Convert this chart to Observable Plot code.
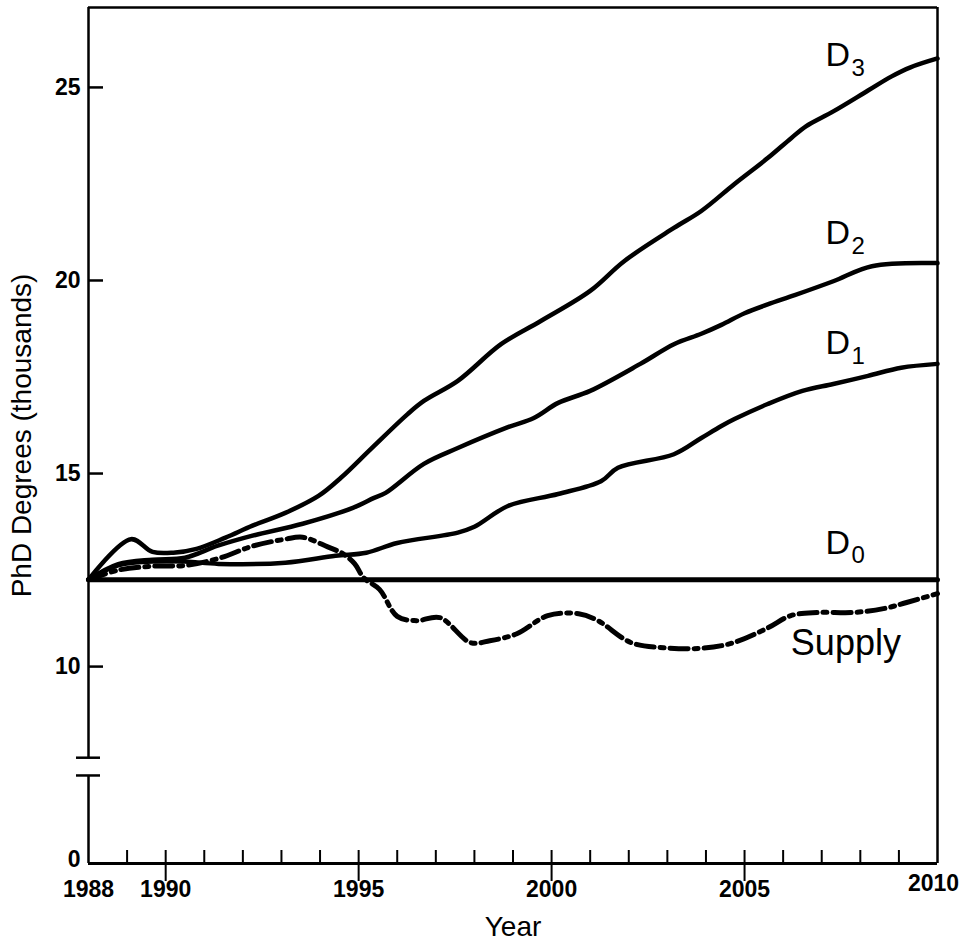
<!DOCTYPE html>
<html><head><meta charset="utf-8">
<script src="https://cdn.jsdelivr.net/npm/d3@7"></script>
<script src="https://cdn.jsdelivr.net/npm/@observablehq/plot@0.6"></script>
<style>body{margin:0;background:#fff} svg{display:block}</style>
</head><body><div id="chart"></div>
<script>
// ---- data ----
const minorYears = [1989,1990,1991,1992,1993,1994,1995,1996,1997,1998,1999,2000,2001,2002,2003,2004,2005,2006,2007,2008,2009];
const majorYears = [1990,1995,2000,2005];
const xTickLabels = [1988,1990,1995,2000,2005,2010];
const yTickLabels = [0,10,15,20,25];
const yZeroPos = 5;            // broken axis: "0" is drawn at this scale position
const yBreak = [7.18, 7.64];   // broken-axis marks
const yDomain = [4.9, 27.07];
const xDomain = [1988, 2010];

const D0 = [[1988,12.25],[2010,12.25]];
const D1 = [[1988,12.25],[1988.77,12.62],[1989.66,12.72],[1990.5,12.72],[1991.37,12.66],[1993.1,12.69],[1994.4,12.87],[1995.2,12.95],[1996.0,13.2],[1997.57,13.47],[1998.0,13.62],[1998.87,14.16],[2000.17,14.47],[2001.28,14.8],[2001.72,15.15],[2003.17,15.5],[2003.88,15.92],[2004.4,16.23],[2004.74,16.41],[2005.6,16.8],[2006.5,17.14],[2007.3,17.32],[2008.2,17.53],[2009.06,17.74],[2010,17.84]];
const D2 = [[1988,12.25],[1988.77,12.65],[1989.66,12.77],[1990.5,12.82],[1991.35,13.13],[1992.25,13.39],[1993.55,13.7],[1994.85,14.11],[1995.4,14.37],[1995.7,14.5],[1996.69,15.25],[1997.57,15.66],[1998.87,16.2],[1999.54,16.44],[2000.17,16.83],[2001.0,17.14],[2002.3,17.84],[2003.17,18.35],[2003.88,18.62],[2004.4,18.85],[2005.0,19.15],[2005.6,19.38],[2006.3,19.62],[2007.3,19.98],[2008.3,20.37],[2010,20.45]];
const D3 = [[1988,12.25],[1989.1,13.3],[1989.66,12.97],[1990.2,12.95],[1990.8,13.05],[1991.55,13.34],[1992.25,13.65],[1993.1,13.98],[1993.96,14.42],[1994.54,14.89],[1995.32,15.64],[1996.27,16.54],[1996.69,16.88],[1997.57,17.4],[1998.69,18.35],[1999.72,18.95],[2001.0,19.73],[2001.88,20.5],[2003.17,21.36],[2003.88,21.8],[2004.74,22.5],[2005.6,23.17],[2006.2,23.68],[2006.6,24.0],[2007.3,24.38],[2008.2,24.92],[2008.8,25.28],[2009.3,25.52],[2010,25.75]];
const Supply = [[1988,12.25],[1988.78,12.5],[1989.66,12.6],[1990.5,12.62],[1991.37,12.8],[1992.25,13.12],[1993.1,13.3],[1993.55,13.35],[1994.2,13.1],[1994.6,12.92],[1994.9,12.66],[1995.13,12.3],[1995.54,12.0],[1996.0,11.3],[1996.5,11.19],[1997.1,11.27],[1997.9,10.62],[1998.4,10.67],[1999.1,10.85],[1999.9,11.32],[2000.7,11.37],[2001.2,11.19],[2002.06,10.62],[2002.9,10.49],[2003.8,10.47],[2004.65,10.6],[2005.6,11.0],[2006.2,11.32],[2006.9,11.4],[2007.8,11.4],[2008.6,11.5],[2009.2,11.66],[2010,11.89]];

const seriesLabels = [
  {sub:"3", x:2007.1, y:25.83},
  {sub:"2", x:2007.1, y:21.22},
  {sub:"1", x:2007.1, y:18.37},
  {sub:"0", x:2007.1, y:13.21}
];
const supplyLabel = [{text:"Supply", x:2006.2, y:10.6}];
const xTitle = ["Year"];
const yTitle = ["PhD Degrees (thousands)"];

// ---- layout ----
const W = 972, H = 950, mL = 88, mR = 35, mT = 7, mB = 87;
const fw = W - mL - mR, fh = H - mT - mB;
const font = "'Liberation Sans', Arial, Helvetica, sans-serif";
const lineOpts = {x: d => d[0], y: d => d[1], stroke: "black", strokeWidth: 4.5, curve: "catmull-rom"};

const chart = Plot.plot({
  width: W, height: H,
  marginLeft: mL, marginRight: mR, marginTop: mT, marginBottom: mB,
  x: {domain: xDomain, axis: null},
  y: {domain: yDomain, axis: null},
  style: {fontFamily: font, color: "#000", background: "#fff"},
  marks: [
    // frame / axes
    Plot.ruleY([yDomain[1]], {stroke: "black", strokeWidth: 2.5}),
    Plot.ruleY([yDomain[0]], {stroke: "black", strokeWidth: 2.8}),
    Plot.ruleX([xDomain[1]], {stroke: "black", strokeWidth: 2.5}),
    Plot.ruleX([xDomain[0]], {y1: yDomain[0], y2: yBreak[0], stroke: "black", strokeWidth: 2.5}),
    Plot.ruleX([xDomain[0]], {y1: yBreak[1], y2: yDomain[1], stroke: "black", strokeWidth: 2.5}),
    Plot.tickY(yBreak, {y: d => d, insetLeft: -12, insetRight: fw - 12, stroke: "black", strokeWidth: 2.5}),
    // y ticks (inward)
    Plot.tickY(yTickLabels.filter(v => v > 0), {y: d => d, insetRight: fw - 15, stroke: "black", strokeWidth: 2.5}),
    // x ticks
    Plot.tickX(minorYears, {x: d => d, insetTop: fh - 13, stroke: "black", strokeWidth: 2}),
    Plot.tickX(majorYears, {x: d => d, insetTop: fh, insetBottom: -18, stroke: "black", strokeWidth: 2}),
    // tick labels
    Plot.text(yTickLabels, {y: d => d === 0 ? yZeroPos : d, text: d => String(d), frameAnchor: "left", textAnchor: "end", dx: -8, fontSize: 23, fontWeight: "bold"}),
    Plot.text(xTickLabels.slice(0, -1), {x: d => d, text: d => String(d), frameAnchor: "bottom", dy: 33, fontSize: 23, fontWeight: "bold"}),
    Plot.text(xTickLabels.slice(-1), {x: d => d, text: d => String(d), frameAnchor: "bottom", dy: 27, dx: -4, fontSize: 23, fontWeight: "bold"}),
    // titles
    Plot.text(xTitle, {text: d => d, frameAnchor: "bottom", dy: 72, fontSize: 28}),
    Plot.text(yTitle, {text: d => d, frameAnchor: "left", textAnchor: "middle", rotate: -90, dx: -66, fontSize: 28}),
    // series
    Plot.line(D0, {...lineOpts, strokeWidth: 5, curve: "linear"}),
    Plot.line(D1, lineOpts),
    Plot.line(D2, lineOpts),
    Plot.line(D3, lineOpts),
    Plot.line(Supply, {...lineOpts, strokeWidth: 5, strokeDasharray: "18,6,4,6"}),
    // labels
    Plot.text(seriesLabels, {x: "x", y: "y", text: () => "D", textAnchor: "start", fontSize: 34}),
    Plot.text(seriesLabels, {x: "x", y: "y", text: "sub", textAnchor: "start", dx: 26, dy: 13, fontSize: 24}),
    Plot.text(supplyLabel, {x: "x", y: "y", text: "text", textAnchor: "start", fontSize: 36})
  ]
});
document.getElementById("chart").append(chart);
</script>
</body></html>
